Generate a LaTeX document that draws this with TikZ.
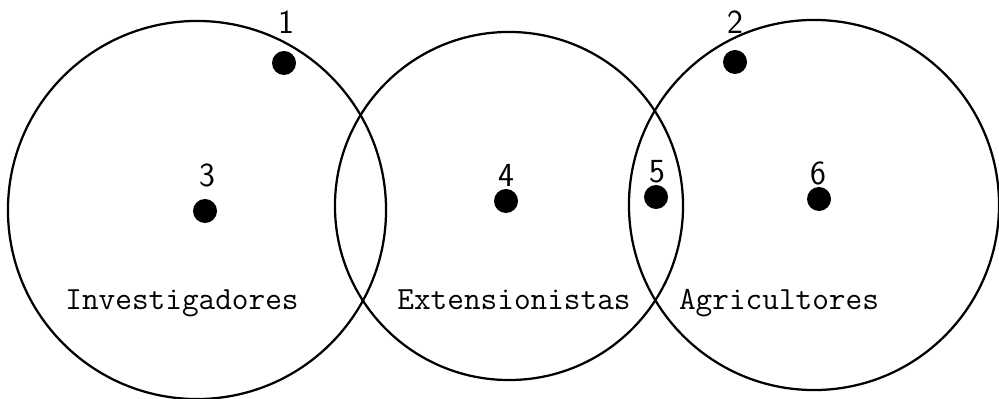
\documentclass[tikz,border=0pt]{standalone}
\usetikzlibrary{positioning}
\tikzset{
  % circulo de un grupo
  grupo/.style={circle, draw=black, line width=1.6pt, inner sep=0pt},
  % punto de un actor
  punto/.style={circle, fill=black, inner sep=0pt, minimum size=0.6cm},
  % numero de un punto
  num/.style={font=\sffamily\fontsize{24}{28}\selectfont, inner sep=1pt},
  % nombre de un grupo
  etiq/.style={font=\ttfamily\fontsize{23}{27}\selectfont, inner sep=0pt, anchor=base},
}

\begin{document}
\begin{tikzpicture}[x=0.025cm, y=-0.025cm]
  \useasboundingbox (0,0) rectangle (999,399);
  % los tres grupos
  \node[grupo, minimum size=9.45cm] (inv) at (197,210) {};
  \node[grupo, minimum size=8.7cm] (ext) at (509,206) {};
  \node[grupo, minimum size=9.25cm] (agr) at (814,205) {};
  % puntos
  \node[punto] (p1) at (284,63) {};
  \node[punto] (p2) at (735,62) {};
  \node[punto] (p3) at (205,211) {};
  \node[punto] (p4) at (506,201) {};
  \node[punto] (p5) at (656,197) {};
  \node[punto] (p6) at (819,199) {};
  \node[num] (n1) at (286,22) {1};
  \node[num] (n2) at (735,22) {2};
  \node[num] (n3) at (207,175) {3};
  \node[num] (n4) at (506,175) {4};
  \node[num] (n5) at (657,172) {5};
  \node[num] (n6) at (818,173) {6};
  % nombres
  \node[etiq] (tinv) at (182,310) {Investigadores};
  \node[etiq] (text) at (514,310) {Extensionistas};
  \node[etiq] (tagr) at (779,310) {Agricultores};
\end{tikzpicture}
\end{document}
